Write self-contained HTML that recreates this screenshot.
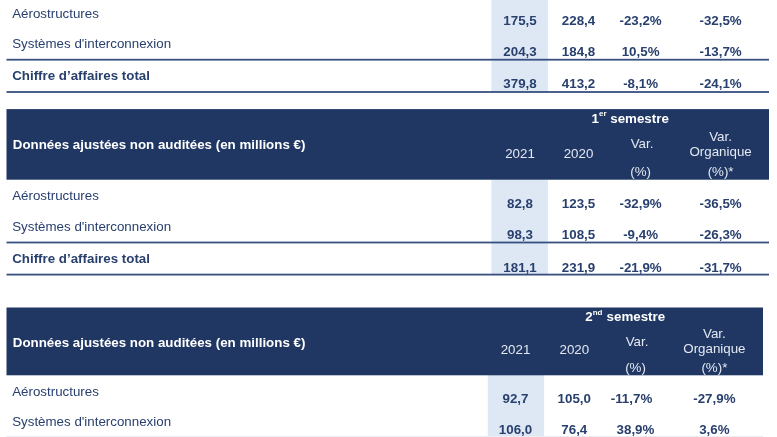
<!DOCTYPE html>
<html lang="fr">
<head>
<meta charset="utf-8">
<title>Chiffre d'affaires</title>
<style>
html,body{margin:0;padding:0;background:#fff;}
body{width:777px;height:437px;position:relative;overflow:hidden;
 font-family:"Liberation Sans",sans-serif;font-size:13.333px;color:#29406f;}
#page{position:absolute;left:0;top:0;width:777px;height:437px;filter:blur(0.6px);}
.bg{position:absolute;left:0;top:0;overflow:visible;}
.t{position:absolute;white-space:nowrap;line-height:16px;height:16px;}
.t.c{width:140px;text-align:center;}
.b{font-weight:bold;}
.w{color:#ffffff;}
.w2{color:#e3e8f1;}
sup{font-size:8px;line-height:0;vertical-align:baseline;position:relative;top:-7px;}
sup.s2{top:-6px;margin-right:0.5px;}
</style>
</head>
<body>
<div id="page">
<svg class="bg" width="777" height="437" viewBox="0 0 777 437">
<rect x="491.40" y="-10.00" width="56.50" height="102.00" fill="#dde8f4"/>
<rect x="6.50" y="58.80" width="762.50" height="1.80" fill="#37507f"/>
<rect x="6.50" y="91.10" width="762.50" height="1.80" fill="#37507f"/>
<rect x="491.40" y="179.50" width="56.50" height="95.10" fill="#dde8f4"/>
<rect x="6.50" y="241.60" width="762.50" height="1.80" fill="#37507f"/>
<rect x="6.50" y="273.70" width="762.50" height="1.80" fill="#37507f"/>
<rect x="6.50" y="109.10" width="762.50" height="70.60" fill="#203764"/>
<rect x="487.80" y="375.00" width="56.30" height="61.00" fill="#dde8f4"/>
<rect x="6.50" y="307.50" width="756.50" height="67.80" fill="#203764"/>
<rect x="6.50" y="436.30" width="756.50" height="1.70" fill="#e2e5eb"/>
</svg>
<span class="t " style="left:12.20px;top:6px">Aérostructures</span>
<span class="t c b" style="left:450.00px;top:13px">175,5</span>
<span class="t c b" style="left:508.50px;top:13px">228,4</span>
<span class="t c b" style="left:570.60px;top:13px">-23,2%</span>
<span class="t c b" style="left:650.60px;top:13px">-32,5%</span>
<span class="t " style="left:12.20px;top:36px">Systèmes d'interconnexion</span>
<span class="t c b" style="left:450.00px;top:44px">204,3</span>
<span class="t c b" style="left:508.50px;top:44px">184,8</span>
<span class="t c b" style="left:570.60px;top:44px">10,5%</span>
<span class="t c b" style="left:650.60px;top:44px">-13,7%</span>
<span class="t b" style="left:12.20px;top:68px">Chiffre d’affaires total</span>
<span class="t c b" style="left:450.00px;top:76px">379,8</span>
<span class="t c b" style="left:508.50px;top:76px">413,2</span>
<span class="t c b" style="left:570.60px;top:76px">-8,1%</span>
<span class="t c b" style="left:650.60px;top:76px">-24,1%</span>
<span class="t " style="left:12.20px;top:188px">Aérostructures</span>
<span class="t c b" style="left:450.00px;top:196px">82,8</span>
<span class="t c b" style="left:508.50px;top:196px">123,5</span>
<span class="t c b" style="left:570.60px;top:196px">-32,9%</span>
<span class="t c b" style="left:650.60px;top:196px">-36,5%</span>
<span class="t " style="left:12.20px;top:219px">Systèmes d'interconnexion</span>
<span class="t c b" style="left:450.00px;top:227px">98,3</span>
<span class="t c b" style="left:508.50px;top:227px">108,5</span>
<span class="t c b" style="left:570.60px;top:227px">-9,4%</span>
<span class="t c b" style="left:650.60px;top:227px">-26,3%</span>
<span class="t b" style="left:12.20px;top:251px">Chiffre d’affaires total</span>
<span class="t c b" style="left:450.00px;top:260px">181,1</span>
<span class="t c b" style="left:508.50px;top:260px">231,9</span>
<span class="t c b" style="left:570.60px;top:260px">-21,9%</span>
<span class="t c b" style="left:650.60px;top:260px">-31,7%</span>
<span class="t b w" style="left:12.80px;top:137px">Données ajustées non auditées (en millions €)</span>
<span class="t c b w" style="left:560.20px;top:111px">1<sup>er</sup> semestre</span>
<span class="t c w2" style="left:450.00px;top:146px">2021</span>
<span class="t c w2" style="left:508.50px;top:146px">2020</span>
<span class="t c w2" style="left:572.10px;top:136px">Var.</span>
<span class="t c w2" style="left:570.60px;top:164px">(%)</span>
<span class="t c w2" style="left:650.60px;top:129px">Var.</span>
<span class="t c w2" style="left:650.60px;top:144px">Organique</span>
<span class="t c w2" style="left:650.60px;top:164px">(%)*</span>
<span class="t " style="left:12.20px;top:384px">Aérostructures</span>
<span class="t c b" style="left:445.50px;top:391px">92,7</span>
<span class="t c b" style="left:504.30px;top:391px">105,0</span>
<span class="t c b" style="left:561.50px;top:391px">-11,7%</span>
<span class="t c b" style="left:644.40px;top:391px">-27,9%</span>
<span class="t " style="left:12.20px;top:414px">Systèmes d'interconnexion</span>
<span class="t c b" style="left:445.50px;top:422px">106,0</span>
<span class="t c b" style="left:504.30px;top:422px">76,4</span>
<span class="t c b" style="left:565.50px;top:422px">38,9%</span>
<span class="t c b" style="left:644.40px;top:422px">3,6%</span>
<span class="t b w" style="left:12.80px;top:335px">Données ajustées non auditées (en millions €)</span>
<span class="t c b w" style="left:555.20px;top:309px">2<sup class="s2">nd</sup> semestre</span>
<span class="t c w2" style="left:445.50px;top:342px">2021</span>
<span class="t c w2" style="left:504.30px;top:342px">2020</span>
<span class="t c w2" style="left:567.00px;top:334px">Var.</span>
<span class="t c w2" style="left:565.50px;top:360px">(%)</span>
<span class="t c w2" style="left:644.40px;top:326px">Var.</span>
<span class="t c w2" style="left:644.40px;top:341px">Organique</span>
<span class="t c w2" style="left:644.40px;top:360px">(%)*</span>
</div>
</body>
</html>
